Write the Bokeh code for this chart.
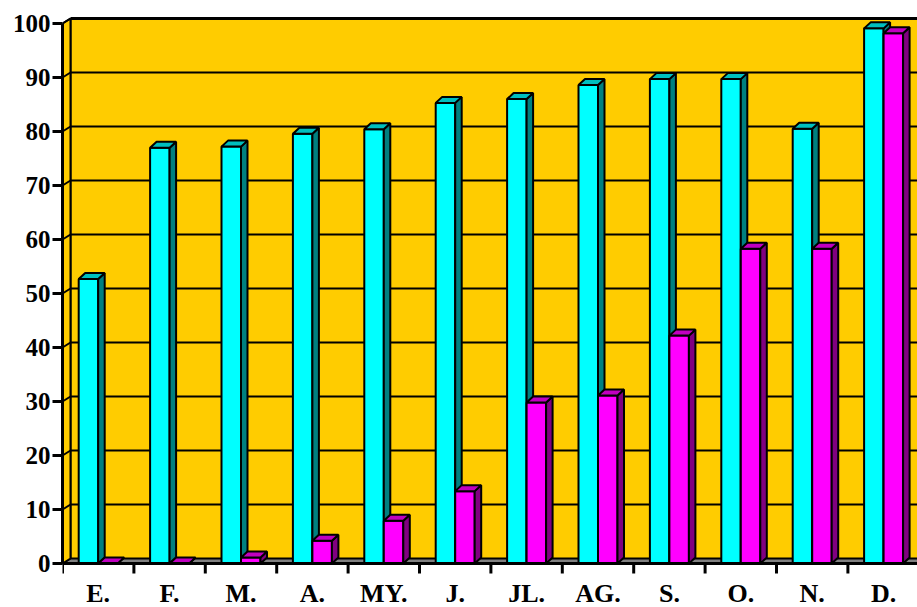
from bokeh.plotting import figure
from bokeh.models import Range1d, FixedTicker
from bokeh.core.properties import value
from bokeh.embed import file_html
from bokeh.resources import INLINE

# ---- data ----
months = ["E.", "F.", "M.", "A.", "MY.", "J.", "JL.", "AG.", "S.", "O.", "N.", "D."]
serie_cian = [52.7, 77.0, 77.2, 79.6, 80.4, 85.3, 86.0, 88.6, 89.7, 89.7, 80.5, 99.1]
serie_magenta = [0.0, 0.0, 1.1, 4.2, 7.9, 13.4, 29.8, 31.1, 42.2, 58.3, 58.3, 98.2]
y_ticks = list(range(0, 101, 10))

# ---- layout constants ----
W, H = 917, 607
LEFT, TOP = 62, 15
FW = W - LEFT
FH = H - TOP
NC = len(months)
PXC = 71.4             # px per category
PY = 5.4               # px per value unit
Y0_PX = 44             # px from frame bottom to value 0
y_start = -Y0_PX / PY
y_end = (FH - Y0_PX) / PY

WX, WY = 8 / PXC, 5 / PY       # wall depth offset
BX, BY = 6.5 / PXC, 6 / PY     # bar depth offset
BW = 19.5 / PXC                # bar width

YELLOW = "#FFCC00"
FONT = value("Liberation Serif")

p = figure(width=W, height=H, output_backend="svg", toolbar_location=None,
           x_range=Range1d(0, FW / PXC), y_range=Range1d(y_start, y_end),
           min_border_left=LEFT, min_border_top=TOP, min_border_right=0,
           min_border_bottom=0, x_axis_location=None)
p.background_fill_color = "white"
p.border_fill_color = "white"
p.outline_line_color = None
p.grid.visible = False

# back wall
p.quad(left=WX, right=NC + 1, bottom=WY, top=100 + WY, fill_color=YELLOW, line_color=None)
gv = [v for v in y_ticks if v > 0]
p.segment(x0=[WX] * len(gv), x1=[NC + 1] * len(gv), y0=[v + WY for v in gv],
          y1=[v + WY for v in gv], line_color="black",
          line_width=[3 if v == 100 else 2 for v in gv])
p.segment(x0=[WX], x1=[WX], y0=[WY], y1=[100 + WY], line_color="black", line_width=2)

# floor
p.patch(x=[0, NC + 1, NC + 1 + WX, WX], y=[0, 0, WY, WY], fill_color="#808080",
        line_color="black", line_width=2)

# side wall
p.patch(x=[0, WX, WX, 0], y=[0, WY, 100 + WY, 100], fill_color=YELLOW,
        line_color="black", line_width=2)
p.segment(x0=[0] * len(gv), x1=[WX] * len(gv), y0=gv, y1=[v + WY for v in gv],
          line_color="black", line_width=2)


def bars(vals, offset, front, top, side):
    lefts = [i + 0.5 + offset for i in range(NC)]
    rights = [l + BW for l in lefts]
    p.quad(left=lefts, right=rights, bottom=[0] * NC, top=vals, fill_color=front,
           line_color="black", line_width=2)
    p.patches(xs=[[r, r + BX, r + BX, r] for r in rights],
              ys=[[0, BY, v + BY, v] for v in vals],
              fill_color=side, line_color="black", line_width=2)
    p.patches(xs=[[l, l + BX, r + BX, r] for l, r in zip(lefts, rights)],
              ys=[[v, v + BY, v + BY, v] for v in vals],
              fill_color=top, line_color="black", line_width=2)


bars(serie_cian, -BW, "#00FFFF", "#00BFBF", "#008080")
bars(serie_magenta, 0, "#FF00FF", "#C000C0", "#800080")

# front x axis line, ticks, labels
p.segment(x0=[0], x1=[NC], y0=[0], y1=[0], line_color="black", line_width=3)
p.segment(x0=list(range(NC)), x1=list(range(NC)), y0=[0] * NC,
          y1=[-10 / PY] * NC, line_color="black", line_width=3)
p.text(x=[i + 0.5 for i in range(NC)], y=[-30 / PY] * NC, text=months,
       text_font=FONT, text_font_style="bold", text_font_size="26px",
       text_align="center", text_baseline="middle", text_color="black")

# y axis
ax = p.yaxis[0]
ax.ticker = FixedTicker(ticks=y_ticks)
ax.bounds = (0, 100)
ax.axis_line_width = 3
ax.axis_line_color = "black"
ax.major_tick_out = 10
ax.major_tick_in = 0
ax.major_tick_line_width = 3
ax.minor_tick_line_color = None
ax.major_label_text_font = "Liberation Serif"
ax.major_label_text_font_style = "bold"
ax.major_label_text_font_size = "25px"
ax.major_label_text_color = "black"
ax.major_label_standoff = 2

open("out.html", "w").write(file_html(p, INLINE))
